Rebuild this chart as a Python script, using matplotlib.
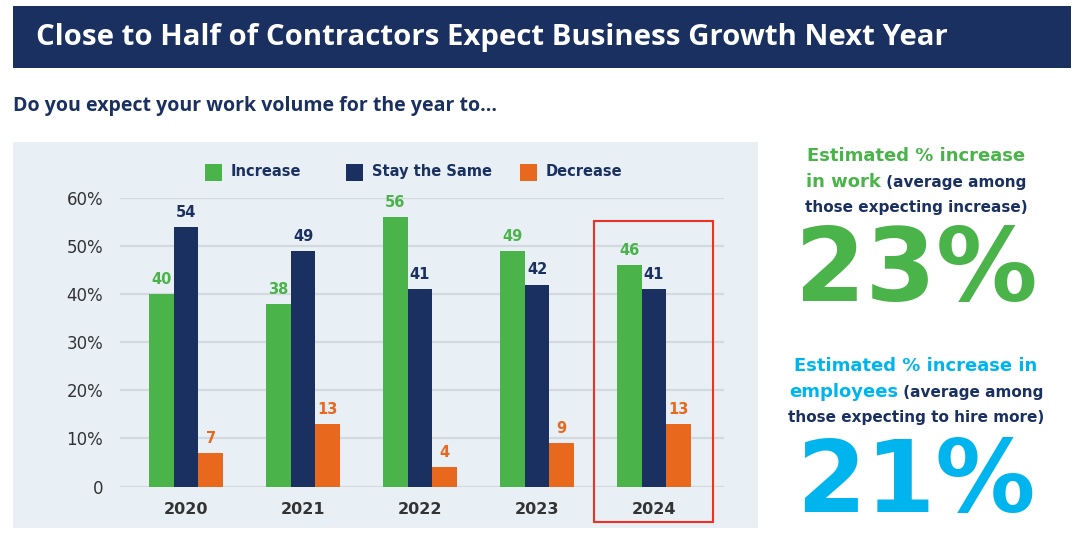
import matplotlib
matplotlib.use("Agg")
import matplotlib.pyplot as plt
from matplotlib.patches import Rectangle
import numpy as np

# ---- data ----
years = ["2020", "2021", "2022", "2023", "2024"]
increase = [40, 38, 56, 49, 46]
stay_same = [54, 49, 41, 42, 41]
decrease = [7, 13, 4, 9, 13]
series_names = ["Increase", "Stay the Same", "Decrease"]
yticks = [0, 10, 20, 30, 40, 50, 60]
ytick_labels = ["0", "10%", "20%", "30%", "40%", "50%", "60%"]
work_increase = "23%"
employee_increase = "21%"

GREEN = "#4ab34a"
NAVY = "#1a3060"
ORANGE = "#e8681e"
CYAN = "#00b5ee"
PANEL = "#e9f0f5"
GRID = "#d3d9de"
RED = "#ee3124"
TEXT = "#333333"

W, H = 1080, 542
fig = plt.figure(figsize=(W / 100, H / 100), dpi=100)
fig.patch.set_facecolor("white")


def fx(x):
    return x / W


def fy(y):
    return 1 - y / H


# title banner
fig.patches.append(Rectangle((fx(13), fy(68)), fx(1071) - fx(13), fy(6) - fy(68),
                             transform=fig.transFigure, facecolor=NAVY, edgecolor="none", zorder=-2))
fig.text(fx(36), fy(37), "Close to Half of Contractors Expect Business Growth Next Year",
         color="white", fontsize=21.2, fontweight="bold", family="Open Sans", va="center", ha="left")
fig.text(fx(13), fy(106), "Do you expect your work volume for the year to...",
         color=NAVY, fontsize=14, fontweight="bold", family="Open Sans", va="center", ha="left")

# chart panel
fig.patches.append(Rectangle((fx(13), fy(528)), fx(758) - fx(13), fy(142) - fy(528),
                             transform=fig.transFigure, facecolor=PANEL, edgecolor="none", zorder=-2))

# axes: 0 at y=486.5, 60 at y=198 ; x from 120 to 724
ax = fig.add_axes([fx(120), fy(486.5), fx(724) - fx(120), fy(198) - fy(486.5)])
ax.set_zorder(1)
ax.set_facecolor("none")
x = np.arange(len(years))
bw = 0.21
unit = 117.0
left = (120 - 186) / unit
right = (724 - 186) / unit
ax.set_xlim(left, right)
ax.set_ylim(0, 60)

for yv in yticks:
    ax.axhline(yv, color=GRID, lw=1.6, zorder=0)

series = [increase, stay_same, decrease]
colors = [GREEN, NAVY, ORANGE]
offsets = [-bw, 0, bw]
for vals, c, off in zip(series, colors, offsets):
    ax.bar(x + off, vals, width=bw, color=c, edgecolor="none", zorder=2)
    for xi, v in zip(x, vals):
        ax.text(xi + off, v + 1.5, str(v), color=c, ha="center", va="bottom",
                fontsize=10.5, fontweight="bold", zorder=3)

ax.set_yticks(yticks)
ax.set_yticklabels(ytick_labels)
ax.tick_params(axis="y", length=0, pad=12, labelsize=12, labelcolor=TEXT)
ax.set_xticks(x)
ax.set_xticklabels(years)
ax.tick_params(axis="x", length=0, pad=11, labelsize=11.5, labelcolor=TEXT)
for lab in ax.get_xticklabels():
    lab.set_fontweight("bold")
for s in ax.spines.values():
    s.set_visible(False)

# highlight box around 2024
fig.patches.append(Rectangle((fx(594), fy(522)), fx(713) - fx(594), fy(221) - fy(522),
                             transform=fig.transFigure, facecolor="none", edgecolor=RED,
                             lw=1.5, zorder=5))

# legend
leg_items = [(205, series_names[0], GREEN), (346, series_names[1], NAVY), (520, series_names[2], ORANGE)]
for lx, name, c in leg_items:
    fig.patches.append(Rectangle((fx(lx), fy(181)), fx(17), fx(17) * W / H,
                                 transform=fig.transFigure, facecolor=c, edgecolor="none"))
    fig.text(fx(lx + 26), fy(172), name, color=NAVY, fontsize=10.5, fontweight="bold",
             va="center", ha="left")

# right side call-outs
fig.canvas.draw()
renderer = fig.canvas.get_renderer()


def mixed_line(cx, y, parts):
    texts = []
    for s, c, fs in parts:
        t = fig.text(0, fy(y), s, color=c, fontsize=fs, fontweight="bold", va="baseline", ha="left")
        texts.append(t)
    widths = [t.get_window_extent(renderer).width for t in texts]
    total = sum(widths)
    xpos = cx - total / 2
    for t, w in zip(texts, widths):
        t.set_x(fx(xpos))
        xpos += w


cx1 = 916
mixed_line(cx1, 161, [("Estimated % increase", GREEN, 13)])
mixed_line(cx1, 187, [("in work", GREEN, 13), (" (average among", NAVY, 11)])
mixed_line(cx1, 212, [("those expecting increase)", NAVY, 11)])
fig.text(fx(cx1), fy(301), work_increase, color=GREEN, fontsize=73, fontweight="bold",
         ha="center", va="baseline")

cx2 = 916
mixed_line(cx2, 371, [("Estimated % increase in", CYAN, 13)])
mixed_line(cx2, 397, [("employees", CYAN, 13), (" (average among", NAVY, 11)])
mixed_line(cx2, 422, [("those expecting to hire more)", NAVY, 11)])
fig.text(fx(cx2), fy(512), employee_increase, color=CYAN, fontsize=72, fontweight="bold",
         ha="center", va="baseline")

fig.savefig("out.png", dpi=100, facecolor="white")
